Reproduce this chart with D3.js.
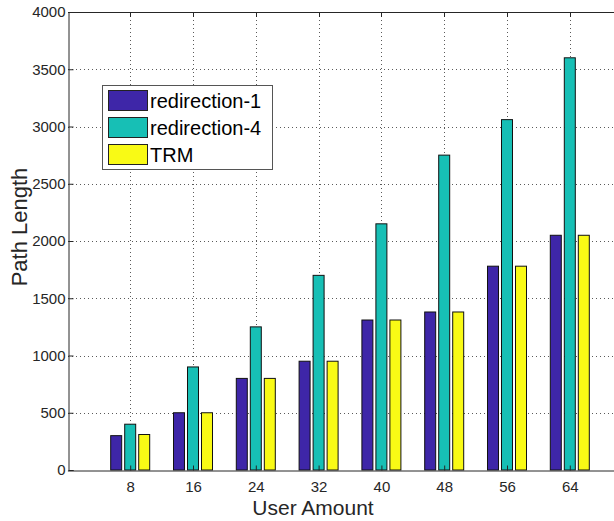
<!DOCTYPE html>
<html>
<head>
<meta charset="utf-8">
<script src="https://cdn.jsdelivr.net/npm/d3@7"></script>
<style>
  body { margin: 0; background: #fff; }
  svg { display: block; font-family: "Liberation Sans", Arial, sans-serif; }
</style>
</head>
<body>
<div id="chart"></div>
<script>
// chart values
const userAmounts = [8, 16, 24, 32, 40, 48, 56, 64];
const seriesNames = ["redirection-1", "redirection-4", "TRM"];
const redirection1 = [300, 500, 800, 950, 1310, 1380, 1780, 2050];
const redirection4 = [400, 900, 1250, 1700, 2150, 2750, 3060, 3600];
const trm = [310, 500, 800, 950, 1310, 1380, 1780, 2050];
const yTicks = [0, 500, 1000, 1500, 2000, 2500, 3000, 3500, 4000];
const colors = ["#3e26a8", "#17bfb5", "#f9fa15"];

const W = 614, H = 521;
const margin = { left: 68, top: 12, bottom: 51 };
const plotBottom = H - margin.bottom;

const svg = d3.select("#chart").append("svg")
  .attr("width", W).attr("height", H);

// x in group-index units, MATLAB style xlim [0, 9]
const x = d3.scaleLinear().domain([0, userAmounts.length + 1]).range([margin.left - 0.6, 632.6]);
const y = d3.scaleLinear().domain([0, 4000]).range([plotBottom, margin.top]);

const right = x.range()[1];
const dk = "#262626";

// dotted grid
const grid = svg.append("g").attr("stroke", "#5a5a5a").attr("stroke-dasharray", "1,3").attr("stroke-width", 1);
grid.selectAll(".gy").data(yTicks.slice(1, -1)).enter().append("line")
  .attr("x1", margin.left).attr("x2", right)
  .attr("y1", d => Math.round(y(d)) + 0.5).attr("y2", d => Math.round(y(d)) + 0.5);
grid.selectAll(".gx").data(userAmounts).enter().append("line")
  .attr("x1", (d, i) => Math.round(x(i + 1)) + 0.5).attr("x2", (d, i) => Math.round(x(i + 1)) + 0.5)
  .attr("y1", margin.top).attr("y2", plotBottom);

// bars
const series = [redirection1, redirection4, trm];
const step = 0.223, bw = 0.175;
series.forEach((vals, s) => {
  svg.append("g").selectAll("rect").data(vals).enter().append("rect")
    .attr("x", (d, i) => x(i + 1 + (s - 1) * step - bw / 2))
    .attr("width", x(bw) - x(0))
    .attr("y", d => y(d))
    .attr("height", d => y(0) - y(d))
    .attr("fill", colors[s])
    .attr("stroke", "#111")
    .attr("stroke-width", 1);
});

// axes
const yAxis = svg.append("g")
  .attr("transform", `translate(${margin.left + 0.5},0)`)
  .call(d3.axisLeft(y).tickValues(yTicks).tickSize(-5).tickPadding(3).tickFormat(d3.format("d")));
yAxis.select(".domain").attr("stroke", dk);
yAxis.selectAll(".tick line").attr("stroke", dk);
yAxis.selectAll("text").attr("fill", dk).style("font-size", "15px");

const xAxis = svg.append("g")
  .attr("transform", `translate(0,${plotBottom + 0.5})`)
  .call(d3.axisBottom(x).tickValues(userAmounts.map((d, i) => i + 1))
    .tickFormat((d, i) => userAmounts[i]).tickSize(-5).tickPadding(11).tickSizeOuter(0));
xAxis.select(".domain").attr("stroke", dk);
xAxis.selectAll(".tick line").attr("stroke", dk);
xAxis.selectAll("text").attr("fill", dk).style("font-size", "15px");

// top border with ticks
svg.append("line").attr("x1", margin.left).attr("x2", right)
  .attr("y1", margin.top + 0.5).attr("y2", margin.top + 0.5).attr("stroke", dk);
svg.append("g").selectAll("line").data(userAmounts).enter().append("line")
  .attr("x1", (d, i) => Math.round(x(i + 1)) + 0.5).attr("x2", (d, i) => Math.round(x(i + 1)) + 0.5)
  .attr("y1", margin.top).attr("y2", margin.top + 5).attr("stroke", dk);

// axis labels
svg.append("text")
  .attr("transform", "translate(27,227) rotate(-90)")
  .attr("text-anchor", "middle").attr("fill", dk)
  .style("font-size", "22px").text("Path Length");
svg.append("text")
  .attr("x", 313).attr("y", 515)
  .attr("text-anchor", "middle").attr("fill", dk)
  .style("font-size", "21px").text("User Amount");

// legend
const legend = svg.append("g");
legend.append("rect").attr("x", 102.5).attr("y", 85.5).attr("width", 170).attr("height", 84)
  .attr("fill", "#fff").attr("stroke", "#555");
seriesNames.forEach((name, i) => {
  legend.append("rect").attr("x", 108.5).attr("y", 90.5 + i * 27).attr("width", 39).attr("height", 20)
    .attr("fill", colors[i]).attr("stroke", "#222");
  legend.append("text").attr("x", 150).attr("y", 108 + i * 27)
    .attr("fill", "#000").style("font-size", "20px").text(name);
});
</script>
</body>
</html>
